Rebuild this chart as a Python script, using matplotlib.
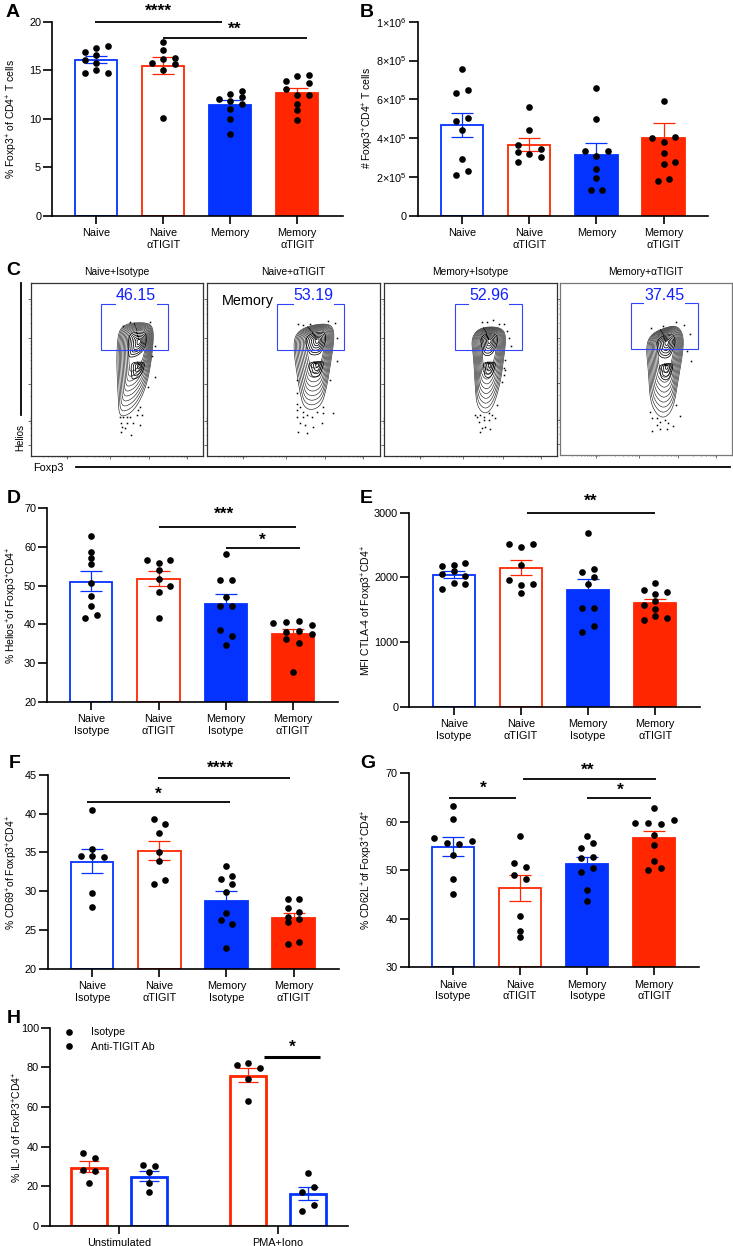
import numpy as np
import matplotlib
matplotlib.use("Agg")
import matplotlib.pyplot as plt
from matplotlib.lines import Line2D

plt.rcParams['font.family'] = ['Liberation Sans', 'DejaVu Sans']
plt.rcParams['mathtext.default'] = 'regular'
plt.rcParams['mathtext.fontset'] = 'custom'
plt.rcParams['mathtext.rm'] = 'Liberation Sans'

W, H = 733, 1246
BLUE = '#0433ff'
RED = '#ff2600'

labels_short = ["Naive", "Naive\nαTIGIT", "Memory", "Memory\nαTIGIT"]
labels_iso = ["Naive\nIsotype", "Naive\nαTIGIT", "Memory\nIsotype", "Memory\nαTIGIT"]

# panel A
a_vals = [[16.84, 16.09, 14.68, 17.3, 16.6, 15.7, 15.0, 17.5, 14.75],
          [15.7, 17.9, 17.05, 16.2, 15.06, 10.1, 16.3, 15.6],
          [12.04, 12.55, 11.84, 11.0, 10.0, 8.44, 12.9, 12.3, 11.5],
          [13.93, 13.1, 14.37, 12.45, 11.5, 10.9, 9.9, 14.5, 13.65, 12.5]]
a_cols = [[-1, -1, -1, 0, 0, 0, 0, 1, 1],
          [-1, 0, 0, 0, 0, 0, 1, 1],
          [-1, 0, 0, 0, 0, 0, 1, 1, 1],
          [-1, -1, 0, 0, 0, 0, 0, 1, 1, 1]]
a_mean = [16.02, 15.44, 11.39, 12.66]
a_lo = [15.71, 14.65, 10.9, 12.2]
a_hi = [16.43, 16.33, 11.94, 13.17]
a_sig = [(-0.015, 1.87, 19.96, "****", 0.93, 21.3), (1.0, 3.15, 18.3, "**", 2.07, 19.5)]

# panel B
b_vals = [[6.35e5, 6.47e5, 7.55e5, 4.9e5, 5.04e5, 4.41e5, 2.93e5, 2.33e5, 2.13e5],
          [5.61e5, 4.43e5, 3.64e5, 3.28e5, 2.78e5, 3.45e5, 3.05e5, 3.19e5],
          [6.59e5, 4.97e5, 3.34e5, 3.33e5, 3.09e5, 2.4e5, 1.94e5, 1.32e5, 1.34e5],
          [5.9e5, 4.01e5, 4.07e5, 3.83e5, 3.22e5, 2.69e5, 2.76e5, 1.82e5, 1.89e5]]
b_cols = [[-0.5, 0.5, 0, -0.5, 0.5, 0, 0, 0.5, -0.5],
          [0, 0, -1, -1, -1, 1, 1, 0],
          [0, 0, -1, 1, 0, 0, 0, -0.5, 0.5],
          [0, -1, 1, 0, 0, 0, 1, -0.5, 0.5]]
b_mean = [4.67e5, 3.67e5, 3.14e5, 4.01e5]
b_lo = [4.05e5, 3.35e5, 2.6e5, 3.3e5]
b_hi = [5.32e5, 4.0e5, 3.74e5, 4.79e5]

# panel D
d_vals = [[62.9, 58.7, 57.0, 55.6, 50.6, 47.3, 44.8, 41.6, 42.3],
          [56.5, 55.9, 56.7, 53.9, 51.7, 49.8, 48.4, 41.6],
          [58.1, 51.4, 51.5, 47.1, 44.7, 44.7, 38.5, 37.1, 34.6],
          [40.4, 40.5, 41.0, 39.8, 38.0, 38.3, 37.6, 36.2, 35.1, 27.8]]
d_cols = [[0, 0, 0, 0, 0, 0, 0, -0.5, 0.5],
          [-1, 0, 1, 0, 0, 1, 0, 0],
          [0, -0.5, 0.5, 0, -0.5, 0.5, -0.5, 0.5, 0],
          [-1.66, -0.57, 0.54, 1.66, -0.57, 0.54, 1.66, -0.57, 0.54, 0]]
d_mean = [51.0, 51.7, 45.2, 37.4]
d_lo = [48.6, 50.0, 43.0, 36.0]
d_hi = [53.8, 53.7, 47.9, 38.8]
d_sig = [(1.005, 3.04, 65.0, "***", 1.98, 68.9), (2.01, 3.1, 59.6, "*", 2.54, 62.4)]

# panel E
e_vals = [[2182, 2197, 2223, 2048, 2094, 2022, 1909, 1904, 1817],
          [2521, 2470, 2521, 2192, 1961, 1889, 1894, 1760],
          [2691, 2084, 2136, 2007, 1899, 1534, 1534, 1245, 1158],
          [1919, 1806, 1770, 1739, 1631, 1580, 1513, 1410, 1379, 1343]]
e_cols = [[-1, 0, 1, -1, 0, 1, 0, 1, -1],
          [-1, 0, 1, 0, -1, 0, 1, 0],
          [0, -0.5, 0.5, 0.5, 0, -0.5, 0.5, 0.5, -0.5],
          [0, -1, 1, 0, 0, -1, 0, 0, 1, -1]]
e_mean = [2038, 2141, 1811, 1606]
e_lo = [1997, 2033, 1650, 1540]
e_hi = [2094, 2264, 1976, 1672]
e_sig = [(1.09, 3.0, 2990, "**", 2.04, 3221)]

# panel F
f_vals = [[40.5, 35.5, 34.5, 34.6, 34.4, 29.8, 28.0],
          [39.3, 38.6, 37.5, 35.1, 33.9, 31.5, 30.9],
          [33.25, 31.6, 32.0, 30.9, 29.9, 27.2, 26.3, 25.8, 22.7],
          [29.0, 29.0, 27.8, 27.3, 26.7, 26.4, 26.0, 23.2, 23.5]]
f_cols = [[0, 0, -1, 0, 1, 0, 0],
          [-0.5, 0.5, 0, 0, 0, 0.5, -0.5],
          [0, -0.5, 0.5, 0.5, 0, 0, -0.5, 0.5, 0],
          [-0.5, 0.5, -0.5, 0.5, -0.5, 0.5, -0.5, -0.5, 0.5]]
f_mean = [33.8, 35.2, 28.8, 26.5]
f_lo = [32.4, 34.0, 27.6, 25.8]
f_hi = [35.4, 36.5, 30.0, 27.25]
f_sig = [(0.98, 2.945, 44.6, "****", 1.91, 46.2), (-0.085, 2.055, 41.44, "*", 0.985, 42.8)]

# panel G
g_vals = [[63.2, 60.5, 56.6, 55.9, 55.6, 55.4, 53.2, 48.1, 45.1],
          [57.0, 51.4, 50.7, 49.0, 48.1, 40.6, 37.5, 36.2],
          [57.0, 54.6, 55.5, 52.5, 52.8, 50.4, 49.6, 46.0, 43.6],
          [59.7, 59.7, 59.5, 60.3, 62.7, 57.2, 55.2, 51.9, 50.0, 50.4]]
g_cols = [[0, 0, -1.66, 1.66, -0.55, 0.55, 0, 0, 0],
          [0, -0.5, 0.5, -0.5, 0.5, 0, 0, 0],
          [0, -0.5, 0.5, -0.5, 0.5, 0.5, -0.5, 0, 0],
          [-1.66, -0.55, 0.55, 1.66, 0, 0, 0, 0, -0.55, 0.55]]
g_mean = [54.7, 46.3, 51.3, 56.6]
g_lo = [52.9, 43.7, 49.8, 55.1]
g_hi = [56.8, 48.9, 52.8, 58.1]
g_sig = [(-0.055, 0.935, 64.8, "*", 0.45, 67.3), (1.045, 3.03, 68.8, "**", 2.0, 71.0),
         (1.99, 2.955, 64.8, "*", 2.5, 67.05)]

# panel H
h_groups = ["Unstimulated", "PMA+Iono"]
h_vals = [[37.0, 34.1, 28.2, 27.6, 21.5],
          [30.8, 30.1, 27.1, 21.5, 17.0],
          [81.2, 82.4, 79.8, 74.3, 63.2],
          [26.7, 19.7, 17.3, 10.4, 7.7]]
h_cols = [[-1, 1, -1, 1, 0], [-1, 1, 0, 0, 0], [-2, 0, 2, 0, 0], [0, 1, -1, 1, -1]]
h_mean = [29.5, 24.9, 75.8, 16.0]
h_lo = [27.0, 22.7, 72.4, 12.9]
h_hi = [32.6, 27.9, 79.8, 19.8]

# panel C, outline of the outer contour and stray events, read in channel units
c_titles = ["Naive+Isotype", "Naive+αTIGIT", "Memory+Isotype", "Memory+αTIGIT"]
c_pct = ["46.15", "53.19", "52.96", "37.45"]
c_outline_x = [[109.3, 96, 88.6, 86.6, 86, 86.6, 87.6, 88.6, 97.6, 106, 114.3, 119.3, 122.6, 122.6, 119.3],
               [106, 92.7, 86.7, 86.7, 89.4, 92.7, 96, 104.4, 114.4, 119.4, 122.7, 126.7, 126, 121],
               [104, 92.4, 86.7, 89, 90.7, 92.4, 100.7, 109, 115.7, 119, 121.7, 117.4],
               [106.7, 91.7, 85.7, 88.3, 90, 96.7, 105, 113.3, 118.3, 123.3, 122.7, 116.7]]
c_outline_y = [[133, 131.7, 125.7, 112.4, 95.7, 75.7, 55.7, 39, 40.7, 49, 65.7, 85.7, 112.4, 125.7, 131.7],
               [130.7, 125.7, 117.4, 102.4, 82.4, 62.4, 49, 45, 50.7, 69, 89, 115.7, 127, 131.7],
               [129, 125.7, 115.7, 99, 69, 49, 40.7, 49, 72.4, 95.7, 119, 127.4],
               [128, 121.7, 110, 83.3, 53.3, 40, 36.7, 46.7, 76.7, 106.7, 121.7, 129.3]]
c_peak_x = [108.6, 110, 105, 106.7]
c_peak_y = [114, 115, 115, 112.7]
c_dots_x = [[89.3, 92.6, 96, 99.3, 90, 91, 90, 94.3, 96, 102.6, 106, 107.6, 109.3, 111, 109.3, 100, 124.3, 117.6, 121, 124.3, 99.3, 119.3, 92.6],
            [89.4, 90, 89.4, 90, 90, 92.7, 96, 92.7, 96, 99.4, 97.7, 91, 99.4, 106, 104.4, 114.4, 116, 109.4, 126, 122.7, 129.4, 129.4, 121, 127.7, 96, 91, 102.7, 116],
            [90.7, 92.4, 95.7, 99, 104, 107.4, 94, 99, 104, 110.7, 97.4, 100.7, 105.7, 95.7, 112.4, 117.4, 119, 120.7, 119, 120.7, 124.7, 126.4, 122.4, 108, 97.4, 114, 119, 102.4],
            [90, 91.7, 96.7, 100, 105, 108.3, 91.7, 96.7, 100, 106.7, 113.3, 120, 116, 131, 126.7, 130, 116, 123.3, 103.3, 90.7]]
c_dots_y = [[39, 38.4, 39, 38.4, 32.4, 29, 24, 27.4, 32.4, 32.4, 40.7, 45.7, 49, 40.7, 30.7, 20.7, 79, 69, 99, 109, 133, 133, 129],
            [45.7, 39, 52, 62.4, 75.7, 49, 44, 32.4, 39, 40.7, 30.7, 24, 22.4, 29, 39, 32.4, 42.4, 44, 42.4, 75.7, 94, 117.4, 134, 132.4, 130.7, 131.7, 131.7, 49],
            [40.7, 39, 40.7, 39, 42.4, 40.7, 34, 35.7, 35.7, 37.4, 27.4, 29, 26.4, 24, 50.7, 74, 80.7, 85.7, 87.4, 95.7, 117.4, 109, 124, 135, 133, 131.7, 131.7, 133],
            [43, 36.7, 36.7, 33.3, 35, 31.7, 24.3, 30, 26, 26, 29.3, 39, 50, 94, 104, 120.7, 132.7, 130, 129.3, 127.3]]
c_gate_left = [70.7, 70, 70.7, 70.7]
c_gate_right = [137.3, 137, 137.4, 137.3]
c_gap_left = [84.3, 85.4, 84, 83.3]
c_gap_right = [126, 127, 124.7, 124.3]
c_gate_top = [151.4, 151.4, 151.4, 151.7]
c_gate_bot = [105.4, 105.4, 105.4, 105.7]
c_text_x = [105, 106, 104.7, 104]
c_major_x = [36, 79, 118, 156]
c_major_y = [11, 35, 72, 117, 156]
c_minor_x = [12, 17, 21, 24, 27, 29, 31, 33, 35, 37, 39, 55, 63, 68, 72, 75, 77, 94, 102, 107, 111, 114, 116, 133, 141, 146, 150, 153, 155]
c_minor_y = [21, 28, 33, 36, 38, 60, 87, 95, 102, 107, 111, 114, 132, 141, 147, 151, 154]

fig = plt.figure(figsize=(W / 100, H / 100), dpi=100)


def make_ax(left, right, top, bottom):
    return fig.add_axes([left / W, 1 - bottom / H, (right - left) / W, (bottom - top) / H])


def sig_marks(ax, sig, lw=1.3):
    for x0, x1, y, stars, tx, ty in sig:
        ax.plot([x0, x1], [y, y], color='black', lw=lw, clip_on=False, solid_capstyle='butt', zorder=5)
        ax.annotate(stars, (tx, ty), xytext=(0, -5), textcoords='offset points', ha='center',
                    va='baseline', fontsize=12.5, fontweight='bold', annotation_clip=False)


def style_axes(ax):
    for s in ['top', 'right']:
        ax.spines[s].set_visible(False)
    for s in ['left', 'bottom']:
        ax.spines[s].set_linewidth(1.2)
    ax.tick_params(axis='x', length=5.8, width=1.2, labelsize=7.8, pad=3)
    ax.tick_params(axis='y', length=6.5, width=1.2, labelsize=7.8, pad=1.5)
    ax.patch.set_alpha(0)


def bar_panel(box, c0, step, vals, cols, mean, lo, hi, ylim, yticks, names, sig=(), yticklabels=None):
    left, right, top, bottom = box
    ax = make_ax(left, right, top, bottom)
    colors = [BLUE, RED, BLUE, RED]
    fills = ['white', 'white', BLUE, RED]
    for i in range(4):
        ax.bar(i, mean[i] - ylim[0], bottom=ylim[0], width=0.63, facecolor=fills[i], edgecolor=colors[i], lw=1.3, zorder=2)
        ax.errorbar(i, mean[i], yerr=[[mean[i] - lo[i]], [hi[i] - mean[i]]], fmt='none', ecolor=colors[i],
                    elinewidth=0.9, capsize=8.2, capthick=0.9, zorder=3)
        xs = i + np.array(cols[i]) * 0.174
        ax.plot(xs, vals[i], 'o', color='black', ms=4.8, mew=0, zorder=4, clip_on=False)
    ax.set_xlim((left - c0) / step, (right - c0) / step)
    ax.set_ylim(ylim)
    ax.set_xticks(range(4))
    ax.set_xticklabels(names)
    ax.set_yticks(yticks)
    if yticklabels:
        ax.set_yticklabels(yticklabels)
    style_axes(ax)
    sig_marks(ax, sig)
    return ax


def chaikin(x, y, n=3):
    x, y = np.array(x, float), np.array(y, float)
    for _ in range(n):
        xn, yn = np.roll(x, -1), np.roll(y, -1)
        x = np.column_stack([0.75 * x + 0.25 * xn, 0.25 * x + 0.75 * xn]).ravel()
        y = np.column_stack([0.75 * y + 0.25 * yn, 0.25 * y + 0.75 * yn]).ravel()
    return np.append(x, x[0]), np.append(y, y[0])


def flow_panel(i, box, spine_color):
    ax = make_ax(*box)
    ax.set_xlim(0, 172)
    ax.set_ylim(0, 172)
    x, y = chaikin(c_outline_x[i], c_outline_y[i])
    xc, yc = c_peak_x[i], c_peak_y[i]
    # outer rings: tight at the shoulders, spread out down the tail
    for s in np.linspace(1, 0.4, 10):
        rx = xc + (x - xc) * s ** 0.8
        ry = yc + np.where(y > yc, (y - yc) * s ** 0.6, (y - yc) * s)
        ax.plot(rx, ry, color='#222222', lw=0.45)
    # upper hot spot
    for s in np.linspace(0.5, 0.1, 6):
        ax.plot(xc + (x - xc) * s, yc + (y - yc) * np.where(y > yc, s, s * 0.42), color='black', lw=0.55)
    # lower lobe under the gate line
    for s in np.linspace(0.36, 0.08, 4):
        ax.plot(xc + (x - xc) * s, yc - 24 + (y - yc) * s * 0.5, color='black', lw=0.55)
    ax.plot(c_dots_x[i], c_dots_y[i], 's', color='black', ms=1.1, mew=0)
    gl, gr, g0, g1 = c_gate_left[i], c_gate_right[i], c_gap_left[i], c_gap_right[i]
    gt, gb = c_gate_top[i], c_gate_bot[i]
    ax.plot([g0, gl, gl, gr, gr, g1], [gt, gt, gb, gb, gt, gt], color='#3344ff', lw=0.8, solid_joinstyle='miter')
    ax.text(c_text_x[i], 155, c_pct[i], color='#1020ff', fontsize=11.5, ha='center', va='baseline')
    ax.set_xticks(c_major_x)
    ax.set_yticks(c_major_y)
    ax.set_xticks(c_minor_x, minor=True)
    ax.set_yticks(c_minor_y, minor=True)
    ax.set_xticklabels([])
    ax.set_yticklabels([])
    ax.tick_params(which='major', length=2, width=0.5, color='#333333')
    ax.tick_params(which='minor', length=1, width=0.4, color='#333333')
    for s in ax.spines.values():
        s.set_linewidth(0.9)
        s.set_color(spine_color)
    fig.text((box[0] + box[1]) / 2 / W, 1 - 275 / H, c_titles[i], fontsize=7.4, ha='center', va='baseline')
    return ax


pow_labels = ["0", r"2×10$^{5}$", r"4×10$^{5}$", r"6×10$^{5}$", r"8×10$^{5}$", r"1×10$^{6}$"]

bar_panel((52.3, 343, 21.7, 216), 96.3, 67, a_vals, a_cols, a_mean, a_lo, a_hi, (0, 20), [0, 5, 10, 15, 20], labels_short, a_sig)
bar_panel((417.7, 708.3, 21.7, 216), 462, 67.2, b_vals, b_cols, b_mean, b_lo, b_hi, (0, 1e6),
          [0, 2e5, 4e5, 6e5, 8e5, 1e6], labels_short, (), pow_labels)
bar_panel((47.3, 337.7, 508, 702), 91.3, 67.2, d_vals, d_cols, d_mean, d_lo, d_hi, (20, 70), [20, 30, 40, 50, 60, 70], labels_iso, d_sig)
bar_panel((409.3, 700, 512.7, 707), 453.7, 67.2, e_vals, e_cols, e_mean, e_lo, e_hi, (0, 3000), [0, 1000, 2000, 3000], labels_iso, e_sig)
bar_panel((48, 338.7, 774.7, 969), 92.3, 67.1, f_vals, f_cols, f_mean, f_lo, f_hi, (20, 45), [20, 25, 30, 35, 40, 45], labels_iso, f_sig)
bar_panel((409, 699.3, 773, 967.3), 453, 67.1, g_vals, g_cols, g_mean, g_lo, g_hi, (30, 70), [30, 40, 50, 60, 70], labels_iso, g_sig)

# panel H is grouped, so it gets its own axes
h_left, h_right, h_step, h_c0 = 50, 347.7, 159, 119
ax_h = make_ax(h_left, h_right, 1027.7, 1226)
h_x = [-0.1876, 0.1876, 1 - 0.1876, 1 + 0.1876]
h_color = [RED, BLUE, RED, BLUE]
for i in range(4):
    ax_h.bar(h_x[i], h_mean[i], width=0.224, facecolor='white', edgecolor=h_color[i], lw=2.0, zorder=2)
    ax_h.errorbar(h_x[i], h_mean[i], yerr=[[h_mean[i] - h_lo[i]], [h_hi[i] - h_mean[i]]], fmt='none',
                  ecolor=h_color[i], elinewidth=0.9, capsize=7.4, capthick=0.9, zorder=3)
    ax_h.plot(h_x[i] + np.array(h_cols[i]) * 0.0367, h_vals[i], 'o', color='black', ms=4.8, mew=0, zorder=4)
ax_h.set_xlim((h_left - h_c0) / h_step, (h_right - h_c0) / h_step)
ax_h.set_ylim(0, 100)
ax_h.set_xticks([0, 1])
ax_h.set_xticklabels(h_groups)
ax_h.set_yticks([0, 20, 40, 60, 80, 100])
style_axes(ax_h)
sig_marks(ax_h, [(0.914, 1.264, 85.4, "*", 1.088, 91.3)], lw=2.2)
handles = [Line2D([], [], marker='o', ls='', color='black', ms=4.8, mew=0, label=t) for t in ["Isotype", "Anti-TIGIT Ab"]]
ax_h.legend(handles=handles, loc='upper left', bbox_to_anchor=(-0.005, 1.05), frameon=False, fontsize=7.6,
            labelspacing=0.45, handletextpad=1.1, handlelength=2)

# panel C
flow_panel(0, (30.7, 202.7, 283.3, 455.7), '#333333')
flow_panel(1, (207.3, 379.5, 283.3, 455.7), '#333333')
flow_panel(2, (384.3, 556.7, 283.3, 455.7), '#333333')
flow_panel(3, (560, 732.3, 283, 455), '#777777')

fig.add_artist(Line2D([20.7 / W, 20.7 / W], [1 - 283 / H, 1 - 415 / H], color='black', lw=1.3))
fig.add_artist(Line2D([76 / W, 730 / W], [1 - 467.3 / H, 1 - 467.3 / H], color='black', lw=1.3))
fig.text(20 / W, 1 - 438 / H, "Helios", rotation=90, fontsize=7, ha='center', va='center')
fig.text(33 / W, 1 - 467.7 / H, "Foxp3", fontsize=7.8, ha='left', va='center')
fig.text(221.7 / W, 1 - 300.7 / H, "Memory", fontsize=10.4, ha='left', va='center')

# y axis titles
ylabels = [("% Foxp3$^{+}$ of CD4$^{+}$ T cells", 12.7, 118.7),
           ("# Foxp3$^{+}$CD4$^{+}$ T cells", 368, 118),
           ("% Helios$^{+}$of Foxp3$^{+}$CD4$^{+}$", 12, 605),
           ("MFI CTLA-4 of Foxp3$^{+}$CD4$^{+}$", 367, 610),
           ("% CD69$^{+}$of Foxp3$^{+}$CD4$^{+}$", 12, 872),
           ("% CD62L$^{+}$of Foxp3$^{+}$CD4$^{+}$", 367, 870),
           ("% IL-10 of FoxP3$^{+}$CD4$^{+}$", 17, 1127)]
for txt, x, y in ylabels:
    fig.text(x / W, 1 - y / H, txt, rotation=90, fontsize=7.5, ha='center', va='center')

panel_letters = [("A", 6, 16.7), ("B", 360, 16.7), ("C", 6.7, 275), ("D", 7, 503), ("E", 360, 503.3),
                 ("F", 9, 768), ("G", 360, 768), ("H", 7, 1023)]
for txt, x, y in panel_letters:
    fig.text(x / W, 1 - y / H, txt, fontsize=14, fontweight='bold', ha='left', va='baseline')

fig.savefig("out.png", dpi=100)
